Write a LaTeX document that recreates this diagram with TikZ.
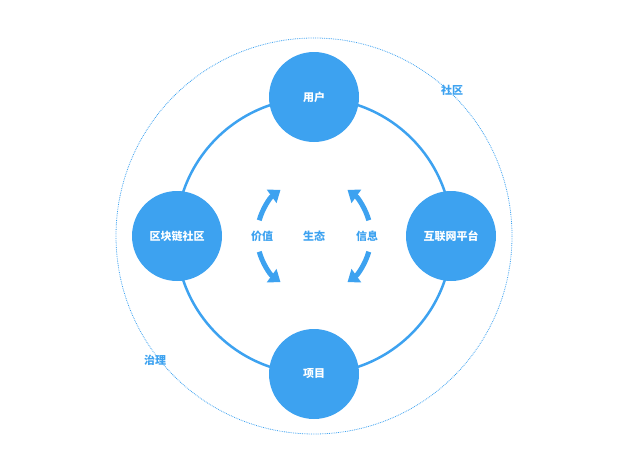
\documentclass[tikz,border=0pt]{standalone}
\usepackage{fontspec}
\setmainfont{Noto Sans CJK SC}
\usetikzlibrary{arrows.meta}
\definecolor{eco}{HTML}{3DA2F0}

\begin{document}
\begin{tikzpicture}[x=1pt,y=-1pt,
  hub/.style={circle,fill=eco,draw=none,text=white,minimum size=90pt,font=\bfseries\fontsize{11}{13}\selectfont},
  tag/.style={text=eco,font=\bfseries\fontsize{11}{13}\selectfont},
  flow/.style={eco,line width=5pt,-{Triangle[length=11pt,width=16pt]}}]
  \useasboundingbox (0,0) rectangle (628,471);

  \coordinate (O) at (314,236);
  \draw[eco,densely dotted,line width=0.8pt] (O) circle[radius=198];
  \draw[eco,line width=2.5pt] (O) circle[radius=138];

  \node[hub] (user)   at (314,97)  {用户};
  \node[hub] (chain)  at (177,236) {区块链社区};
  \node[hub] (net)    at (451,236) {互联网平台};
  \node[hub] (proj)   at (314,374) {项目};

  \node[tag] (eco)    at (O)         {生态};
  \node[tag] (value)  at (262,236)   {价值};
  \node[tag] (info)   at (367,236)   {信息};
  \node[tag] (comm)   at (452,90)    {社区};
  \node[tag] (gov)    at (155,360)   {治理};

  \draw[flow] ([shift={(164:57)}]O) arc[start angle=164,end angle=126,radius=57];
  \draw[flow] ([shift={(196:57)}]O) arc[start angle=196,end angle=234,radius=57];
  \draw[flow] ([shift={(16:57)}]O) arc[start angle=16,end angle=54,radius=57];
  \draw[flow] ([shift={(-16:57)}]O) arc[start angle=-16,end angle=-54,radius=57];
\end{tikzpicture}
\end{document}
